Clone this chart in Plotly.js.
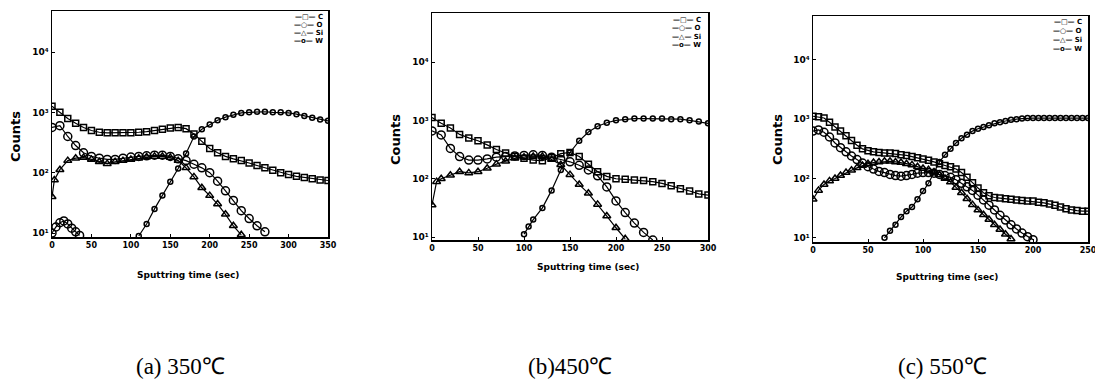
<!DOCTYPE html>
<html>
<head>
<meta charset="utf-8">
<script src="https://cdn.plot.ly/plotly-3.0.1.min.js"></script>
<style>html,body{margin:0;padding:0;background:#fff;}#chart{width:1095px;height:387px;}</style>
</head>
<body>
<div id="chart"></div>
<script>
// ---- data (log10 of counts) ----
const seriesNames = ['C', 'O', 'Si', 'W'];
const legendGlyphs = ['—□—', '—○—', '—△—', '—o—'];
const yTickVals = [10, 100, 1000, 10000];
const yTickText = ['10¹', '10²', '10³', '10⁴'];
const xTicks_a = [0, 50, 100, 150, 200, 250, 300, 350];
const xTicks_b = [0, 50, 100, 150, 200, 250, 300];
const xTicks_c = [0, 50, 100, 150, 200, 250];
const captions = ['(a) 350℃', '(b)450℃', '(c) 550℃'];

// (a) 350 C
const tC_a = [0,10,20,30,40,50,60,70,80,90,100,110,120,130,140,150,160,170,180,190,200,210,220,230,240,250,260,270,280,290,300,310,320,330,340,350];
const C_a  = [3.1,3.0,2.9,2.82,2.75,2.7,2.67,2.66,2.66,2.66,2.66,2.67,2.68,2.7,2.72,2.74,2.75,2.73,2.64,2.52,2.4,2.33,2.27,2.23,2.2,2.16,2.12,2.08,2.04,2.0,1.97,1.94,1.92,1.9,1.88,1.87];
const tO_a = [0,10,20,30,40,50,60,70,80,90,100,110,120,130,140,150,160,170,180,190,200,210,220,230,240,250,260,270];
const O_a  = [2.75,2.78,2.6,2.45,2.33,2.27,2.24,2.22,2.22,2.24,2.26,2.27,2.28,2.29,2.29,2.27,2.23,2.2,2.14,2.08,2.0,1.86,1.7,1.54,1.37,1.24,1.12,1.02];
const tSi_a = [0,3,10,20,30,40,50,60,70,80,90,100,110,120,130,140,150,160,170,180,190,200,210,220,230,240];
const Si_a  = [1.6,1.88,2.05,2.2,2.24,2.25,2.22,2.18,2.15,2.18,2.2,2.22,2.24,2.26,2.27,2.27,2.25,2.2,2.08,1.93,1.75,1.62,1.48,1.31,1.12,0.97];
const tW_a = [110,120,130,140,150,160,170,180,190,200,210,220,230,240,250,260,270,280,290,300,310,320,330,340,350];
const W_a  = [0.95,1.15,1.4,1.62,1.85,2.07,2.32,2.6,2.72,2.8,2.87,2.92,2.96,2.99,3.0,3.01,3.01,3.0,3.0,2.99,2.97,2.94,2.91,2.88,2.86];
const tLow_a = [0,5,10,15,20,25,30,35];
const Low_a  = [1.0,1.1,1.17,1.2,1.15,1.08,1.02,0.96];

// (b) 450 C
const tC_b = [0,10,20,30,40,50,60,70,80,90,100,110,120,130,140,150,160,170,180,190,200,210,220,230,240,250,260,270,280,290,300];
const C_b  = [3.05,2.95,2.87,2.76,2.7,2.65,2.58,2.5,2.44,2.38,2.35,2.32,2.31,2.36,2.43,2.45,2.38,2.25,2.12,2.04,2.0,1.99,1.98,1.97,1.95,1.92,1.88,1.83,1.79,1.74,1.72];
const tO_b = [0,10,20,30,40,50,60,70,80,90,100,110,120,130,140,150,160,170,180,190,200,210,220,230,240];
const O_b  = [2.82,2.75,2.52,2.38,2.32,2.32,2.34,2.37,2.38,2.39,2.4,2.41,2.4,2.37,2.33,2.29,2.23,2.15,2.05,1.86,1.62,1.42,1.24,1.08,0.95];
const tSi_b = [0,5,10,20,30,40,50,60,70,80,90,100,110,120,130,140,150,160,170,180,190,200,210];
const Si_b  = [1.55,1.95,2.0,2.06,2.12,2.1,2.12,2.18,2.25,2.3,2.35,2.37,2.38,2.38,2.33,2.24,2.07,1.9,1.75,1.56,1.36,1.16,0.97];
const tW_b = [100,105,110,120,130,140,150,160,170,180,190,200,210,220,230,240,250,260,270,280,290,300];
const W_b  = [1.05,1.18,1.3,1.5,1.8,2.15,2.45,2.65,2.8,2.9,2.96,3.0,3.02,3.03,3.03,3.03,3.03,3.02,3.02,3.0,2.98,2.95];

// (c) 550 C
const tC_c = [0,5,10,15,20,25,30,35,40,45,50,55,60,65,70,75,80,85,90,95,100,105,110,115,120,125,130,135,140,145,150,155,160,165,170,175,180,185,190,195,200,205,210,215,220,225,230,235,240,245,250];
const C_c  = [3.05,3.04,3.02,2.95,2.87,2.8,2.72,2.64,2.56,2.5,2.47,2.45,2.44,2.43,2.43,2.42,2.4,2.39,2.37,2.35,2.33,2.31,2.28,2.25,2.22,2.2,2.16,2.1,2.02,1.93,1.84,1.76,1.71,1.68,1.67,1.66,1.65,1.64,1.63,1.62,1.62,1.6,1.59,1.57,1.55,1.52,1.49,1.47,1.46,1.45,1.45];
const tO_c = [0,5,10,15,20,25,30,35,40,45,50,55,60,65,70,75,80,85,90,95,100,105,110,115,120,125,130,135,140,145,150,155,160,165,170,175,180,185,190,195,200];
const O_c  = [2.8,2.82,2.78,2.7,2.6,2.52,2.45,2.38,2.32,2.26,2.2,2.16,2.12,2.1,2.07,2.05,2.04,2.05,2.07,2.09,2.1,2.1,2.09,2.07,2.05,2.02,1.98,1.92,1.86,1.8,1.72,1.64,1.55,1.47,1.38,1.3,1.22,1.15,1.08,1.02,0.97];
const tSi_c = [0,5,10,15,20,25,30,35,40,45,50,55,60,65,70,75,80,85,90,95,100,105,110,115,120,125,130,135,140,145,150,155,160,165,170,175,180];
const Si_c  = [1.65,1.8,1.9,1.96,2.0,2.05,2.1,2.14,2.18,2.22,2.25,2.27,2.28,2.29,2.29,2.28,2.27,2.25,2.23,2.2,2.17,2.15,2.11,2.06,2.0,1.94,1.85,1.76,1.66,1.56,1.47,1.39,1.31,1.22,1.14,1.06,0.98];
const tW_c = [65,70,75,80,85,90,95,100,105,110,115,120,125,130,135,140,145,150,155,160,165,170,175,180,185,190,195,200,205,210,215,220,225,230,235,240,245,250];
const W_c  = [1.0,1.12,1.22,1.35,1.45,1.52,1.65,1.79,1.92,2.1,2.28,2.4,2.5,2.6,2.68,2.74,2.8,2.84,2.87,2.9,2.93,2.95,2.97,2.99,3.0,3.01,3.02,3.02,3.02,3.02,3.02,3.02,3.02,3.02,3.02,3.02,3.02,3.02];

// ---- styling ----
const styles = {
  C:  {symbol: 'square-open', size: 6},
  O:  {symbol: 'circle-open', size: 8},
  Si: {symbol: 'triangle-up-open', size: 7},
  W:  {symbol: 'circle-open', size: 5}
};
const pow = arr => arr.map(v => Math.pow(10, v));

function tr(name, xs, ys, k) {
  const s = styles[name];
  return {
    type: 'scatter', mode: 'lines+markers', name: name,
    x: xs, y: pow(ys),
    xaxis: k === 1 ? 'x' : 'x' + k, yaxis: k === 1 ? 'y' : 'y' + k,
    showlegend: false,
    line: {color: '#000', width: 1.2},
    marker: {symbol: s.symbol, size: s.size, color: '#000', line: {color: '#000', width: 1.5}}
  };
}

const data = [
  tr('C', tC_a, C_a, 1), tr('O', tO_a, O_a, 1), tr('Si', tSi_a, Si_a, 1), tr('W', tW_a, W_a, 1),
  tr('O', tLow_a, Low_a, 1),
  tr('C', tC_b, C_b, 2), tr('O', tO_b, O_b, 2), tr('Si', tSi_b, Si_b, 2), tr('W', tW_b, W_b, 2),
  tr('C', tC_c, C_c, 3), tr('O', tO_c, O_c, 3), tr('Si', tSi_c, Si_c, 3), tr('W', tW_c, W_c, 3)
];

const W = 1095, H = 387;
const px = v => v / W, py = v => 1 - v / H;
const tickFont = {family: 'DejaVu Sans', size: 8, color: '#000', weight: 'bold'};

function xax(l, r, rng, ticks, anchor) {
  return {domain: [px(l), px(r)], range: rng, anchor: anchor, tickvals: ticks, ticktext: ticks.map(String),
    showline: true, mirror: true, linecolor: '#000', linewidth: 1.5, ticks: 'inside', ticklen: 3, tickcolor: '#000',
    showgrid: false, zeroline: false, tickfont: tickFont, ticklabeloverflow: 'allow'};
}
function yax(t, b, rng, anchor) {
  return {domain: [py(b), py(t)], type: 'log', range: rng, anchor: anchor, tickvals: yTickVals, ticktext: yTickText,
    showline: true, mirror: true, linecolor: '#000', linewidth: 1.5, ticks: 'inside', ticklen: 3, tickcolor: '#000',
    showgrid: false, zeroline: false, tickfont: {family: 'DejaVu Sans', size: 9, color: '#000', weight: 'bold'}};
}

const ann = [];
function txt(x, y, s, size, angle, fam, weight, anchor) {
  ann.push({xref: 'paper', yref: 'paper', x: px(x), y: py(y), text: s, showarrow: false, textangle: angle || 0,
    xanchor: anchor || 'center', yanchor: 'middle', font: {family: fam || 'DejaVu Sans', size: size, color: '#000', weight: weight || 'bold'}});
}
txt(188, 275, 'Sputtring time (sec)', 9);
txt(588, 267, 'Sputtring time (sec)', 9);
txt(947, 277, 'Sputtring time (sec)', 9);
txt(15, 137, 'Counts', 13, -90);
txt(395, 140, 'Counts', 13, -90);
txt(777, 140, 'Counts', 13, -90);
txt(180, 366, captions[0], 23, 0, 'Liberation Serif', 'normal');
txt(570, 366, captions[1], 23, 0, 'Liberation Serif', 'normal');
txt(942, 366, captions[2], 23, 0, 'Liberation Serif', 'normal');

// legend rows (inside top-right of each panel)
const legendRows = [
  {x: 325, ys: [17, 25, 33, 41]},
  {x: 703, ys: [20, 28, 37, 45]},
  {x: 1084, ys: [22, 31, 40, 49]}
];
legendRows.forEach(L => {
  seriesNames.forEach((n, i) => txt(L.x, L.ys[i], legendGlyphs[i] + ' ' + n, 7, 0, 'DejaVu Sans', 'bold', 'right'));
});

const layout = {
  width: W, height: H, margin: {l: 0, r: 0, t: 0, b: 0},
  paper_bgcolor: '#fff', plot_bgcolor: '#fff', showlegend: false,
  xaxis:  xax(52, 328, [0, 350], xTicks_a, 'y'),
  yaxis:  yax(11, 237, [0.934, 4.68], 'x'),
  xaxis2: xax(432, 708, [0, 300], xTicks_b, 'y2'),
  yaxis2: yax(13, 240, [0.95, 4.84], 'x2'),
  xaxis3: xax(813, 1088, [0, 250], xTicks_c, 'y3'),
  yaxis3: yax(16, 242, [0.93, 4.74], 'x3'),
  annotations: ann
};

Plotly.newPlot('chart', data, layout, {displayModeBar: false, staticPlot: true});
</script>
</body>
</html>
